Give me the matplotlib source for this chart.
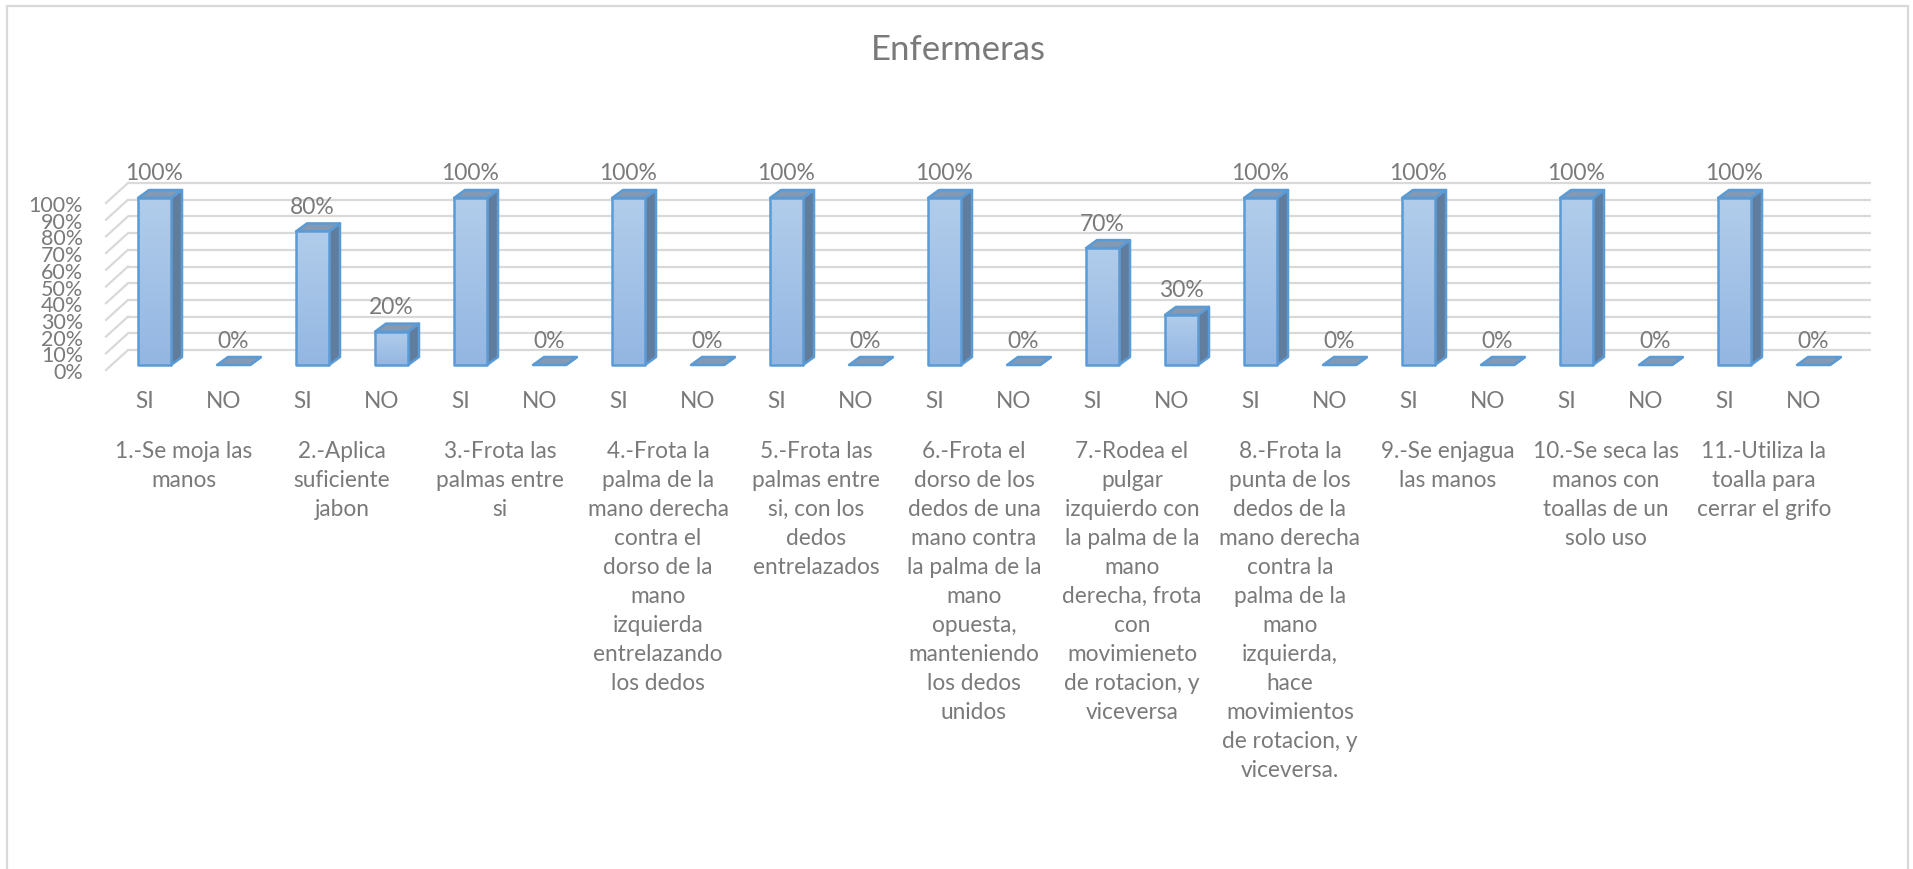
import numpy as np
import matplotlib.pyplot as plt
from matplotlib.patches import Polygon, Rectangle
from matplotlib.colors import LinearSegmentedColormap

# Datos: porcentaje de enfermeras que cumplen cada paso del lavado de manos
categorias = [
    "1.-Se moja las\nmanos",
    "2.-Aplica\nsuficiente\njabon",
    "3.-Frota las\npalmas entre\nsi",
    "4.-Frota la\npalma de la\nmano derecha\ncontra el\ndorso de la\nmano\nizquierda\nentrelazando\nlos dedos",
    "5.-Frota las\npalmas entre\nsi, con los\ndedos\nentrelazados",
    "6.-Frota el\ndorso de los\ndedos de una\nmano contra\nla palma de la\nmano\nopuesta,\nmanteniendo\nlos dedos\nunidos",
    "7.-Rodea el\npulgar\nizquierdo con\nla palma de la\nmano\nderecha, frota\ncon\nmovimieneto\nde rotacion, y\nviceversa",
    "8.-Frota la\npunta de los\ndedos de la\nmano derecha\ncontra la\npalma de la\nmano\nizquierda,\nhace\nmovimientos\nde rotacion, y\nviceversa.",
    "9.-Se enjagua\nlas manos",
    "10.-Se seca las\nmanos con\ntoallas de un\nsolo uso",
    "11.-Utiliza la\ntoalla para\ncerrar el grifo",
]
respuestas = ["SI", "NO"]
si = [1.0, 0.8, 1.0, 1.0, 1.0, 1.0, 0.7, 1.0, 1.0, 1.0, 1.0]
no = [0.0, 0.2, 0.0, 0.0, 0.0, 0.0, 0.3, 0.0, 0.0, 0.0, 0.0]
ticks = np.arange(0, 11) / 10

plt.rcParams['font.family'] = ['Lato', 'DejaVu Sans']
GRIS = '#7a7a7a'
REJILLA = '#d9d9d9'
BORDE = '#5b9bd5'
LATERAL = '#607d9d'
TAPA = '#8399b4'
frente = LinearSegmentedColormap.from_list('frente', ['#93b6e2', '#b2cdeb'])

# tamaño de la figura y escala del grafico en pixeles
W, H = 1913, 869
SLOT = 79.0     # ancho de cada columna
UNIT = 167.0    # alto del 100 %
X0 = 154.5      # centro de la primera barra
Y0 = 365.0      # linea base (desde arriba)

fig = plt.figure(figsize=(W / 100, H / 100), dpi=100)
fig.add_artist(Rectangle((7 / W, -0.02), 1901 / W, 1 - 6 / H + 0.02,
                         transform=fig.transFigure, fill=False,
                         edgecolor=REJILLA, lw=1.6))

n = 2 * len(categorias)
ax = fig.add_axes([(X0 - 0.5 * SLOT) / W, (H - Y0) / H, n * SLOT / W, UNIT / H])
ax.set_xlim(-0.5, n - 0.5)
ax.set_ylim(0, 1)
ax.axis('off')

def px_x(p):
    return p / SLOT

def px_y(p):
    return p / UNIT

# paredes: rejilla del fondo y pared lateral
pared_dy = px_y(15)
x_frente = px_x(106 - X0)
x_fondo = px_x(128 - X0)
x_fin = px_x(1871 - X0)
for t in ticks:
    ax.plot([x_fondo, x_fin], [t + pared_dy] * 2, color=REJILLA, lw=1.6,
            zorder=1, clip_on=False, solid_capstyle='butt')
    ax.plot([x_frente, x_fondo], [t - px_y(5), t + pared_dy], color=REJILLA,
            lw=1.6, zorder=1, clip_on=False)
    ax.text(px_x(83 - X0), t - px_y(8), f'{int(round(t * 100))}%', ha='right',
            va='center', fontsize=15.5, color=GRIS)

# columnas con efecto 3D
ancho = 33 / SLOT
dx, dy = px_x(11), px_y(8)
valores = [v for par in zip(si, no) for v in par]
grad = np.linspace(0, 1, 256).reshape(-1, 1)
for i, v in enumerate(valores):
    x0, x1 = i - ancho / 2, i + ancho / 2
    lado = Polygon([(x1, 0), (x1 + dx, dy), (x1 + dx, v + dy), (x1, v)],
                   closed=True, facecolor=LATERAL, edgecolor=BORDE, lw=1.8,
                   joinstyle='round', zorder=3, clip_on=False)
    ax.add_patch(lado)
    tapa = Polygon([(x0, v), (x1, v), (x1 + dx, v + dy), (x0 + dx, v + dy)],
                   closed=True, facecolor=TAPA, edgecolor=BORDE, lw=1.8,
                   joinstyle='round', zorder=3, clip_on=False)
    ax.add_patch(tapa)
    if v > 0:
        cara = Rectangle((x0, 0), ancho, v, facecolor='none', edgecolor=BORDE,
                         lw=1.8, joinstyle='round', zorder=5, clip_on=False)
        ax.add_patch(cara)
        im = ax.imshow(grad, extent=[x0, x1, 0, v], origin='lower', cmap=frente,
                       aspect='auto', zorder=4)
        im.set_clip_path(cara)
    ax.text(i, v + px_y(24), f'{int(round(v * 100))}%', ha='center',
            va='center', fontsize=16.5, color=GRIS)
    ax.text(i - px_x(10), -px_y(37), respuestas[i % 2], ha='center',
            va='center', fontsize=16.3, color=GRIS)

ax.set_xlim(-0.5, n - 0.5)
ax.set_ylim(0, 1)

for k, cat in enumerate(categorias):
    ax.text(2 * k + 0.5 - px_x(10), -px_y(441 - Y0), cat, ha='center',
            va='top', multialignment='center', fontsize=16.3, color=GRIS,
            linespacing=1.47)

fig.text(958 / W, 1 - 50 / H, 'Enfermeras', ha='center', va='center',
         fontsize=25, color=GRIS)

fig.savefig('out.png', dpi=100, facecolor='white')
